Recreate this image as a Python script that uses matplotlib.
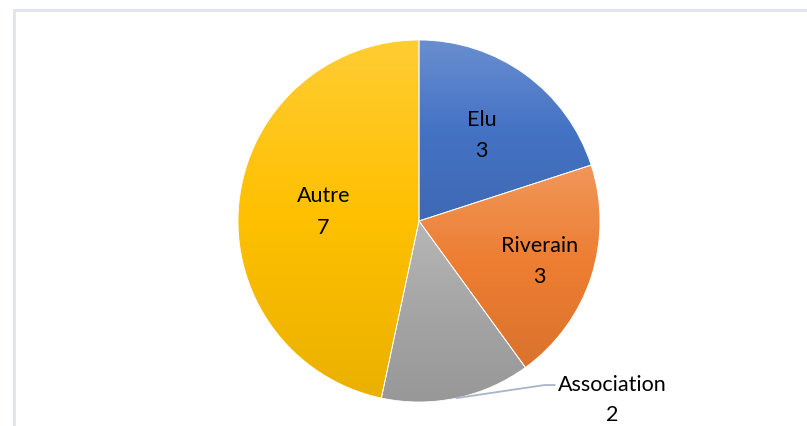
import numpy as np
import matplotlib
matplotlib.use("Agg")
import matplotlib.pyplot as plt
from matplotlib.colors import to_rgb
from matplotlib.patches import Rectangle

# data
categories = ["Elu", "Riverain", "Association", "Autre"]
values = [3, 3, 2, 7]
colors = ["#4472C4", "#ED7D31", "#A5A5A5", "#FFC000"]

plt.rcParams['font.family'] = ['Lato', 'DejaVu Sans']

W, H = 807, 427
fig = plt.figure(figsize=(W / 100, H / 100), dpi=100)
ax = fig.add_axes([0, 0, 1, 1])

# chart frame
ax.add_patch(Rectangle((14, -20), W + 20, H - 11 + 20, fill=False,
                       edgecolor="#E0E3EA", linewidth=2))

cx, cy, r = 419, H - 222, 181
wedges, _ = ax.pie(values, colors=colors, startangle=90, counterclock=False,
                   center=(cx, cy), radius=r, frame=True,
                   wedgeprops=dict(linewidth=0.6, edgecolor="white"))

# excel-like vertical gradient in each slice
for w, c in zip(wedges, colors):
    base = np.array(to_rgb(c))
    top = base + (1 - base) * 0.2
    bot = base * 0.92
    t = np.linspace(0, 1, 256)[:, None]
    grad = np.where(t < 0.5, top + (base - top) * (t / 0.5),
                    base + (bot - base) * ((t - 0.5) / 0.5))
    img = grad[:, None, :] * np.ones((1, 2, 1))
    bb = w.get_path().get_extents(w.get_patch_transform())
    w.set_facecolor("none")
    im = ax.imshow(img, extent=(bb.x0, bb.x1, bb.y0, bb.y1), origin="upper",
                   aspect="auto", zorder=w.get_zorder() - 0.1, interpolation="bilinear")
    im.set_clip_path(w)

ax.set_xlim(0, W)
ax.set_ylim(0, H)
ax.set_aspect("equal")
ax.axis("off")

# labels
dist = [0.59, 0.70, None, 0.53]
for w, name, v, d in zip(wedges, categories, values, dist):
    ang = np.deg2rad((w.theta1 + w.theta2) / 2)
    if d is not None:
        x = cx + d * r * np.cos(ang)
        y = cy + d * r * np.sin(ang)
        ax.text(x, y, f"{name}\n{v}", ha="center", va="center", fontsize=15.5,
                linespacing=1.7, color="black", zorder=5)
    else:
        x0 = cx + r * np.cos(ang)
        y0 = cy + r * np.sin(ang)
        ax.plot([x0, x0 + 88, x0 + 98], [y0, y0 + 13, y0 + 13],
                color="#A6B6C8", lw=1.3, zorder=5)
        ax.text(x0 + 156, y0 - 1, f"{name}\n{v}", ha="center", va="center",
                fontsize=15.5, linespacing=1.6, color="black", zorder=5)

fig.savefig("out.png", dpi=100)
